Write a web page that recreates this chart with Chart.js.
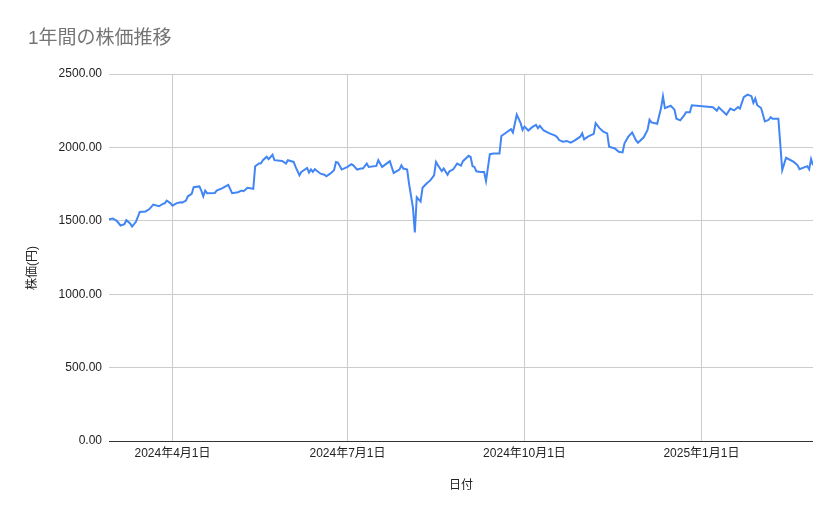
<!DOCTYPE html>
<html lang="ja">
<head>
<meta charset="UTF-8">
<title>1年間の株価推移</title>
<script src="https://cdn.jsdelivr.net/npm/chart.js@4.4.1/dist/chart.umd.min.js"></script>
<style>
    html, body { margin: 0; padding: 0; background: #fff; }
    canvas { display: block; }
</style>
</head>
<body>
<canvas id="stockChart" width="839" height="519"></canvas>
<script>
/**
 * 1年間の株価推移 - データ
 */
const chartTitle = '1年間の株価推移';
const xTitle = '日付';
const yTitle = '株価(円)';

const dates = [
    '2024-02-28', '2024-03-01', '2024-03-03', '2024-03-05', '2024-03-07', '2024-03-08', '2024-03-10', '2024-03-11',
    '2024-03-13', '2024-03-15', '2024-03-18', '2024-03-20', '2024-03-22', '2024-03-25', '2024-03-27', '2024-03-28',
    '2024-03-29', '2024-03-31', '2024-04-01', '2024-04-03', '2024-04-05', '2024-04-06', '2024-04-08', '2024-04-09',
    '2024-04-11', '2024-04-12', '2024-04-15', '2024-04-16', '2024-04-17', '2024-04-18', '2024-04-19', '2024-04-23',
    '2024-04-24', '2024-04-27', '2024-04-30', '2024-05-02', '2024-05-05', '2024-05-07', '2024-05-08', '2024-05-10',
    '2024-05-13', '2024-05-14', '2024-05-16', '2024-05-17', '2024-05-18', '2024-05-20', '2024-05-21', '2024-05-23',
    '2024-05-24', '2024-05-28', '2024-05-30', '2024-05-31', '2024-06-03', '2024-06-04', '2024-06-06', '2024-06-07',
    '2024-06-10', '2024-06-11', '2024-06-12', '2024-06-13', '2024-06-14', '2024-06-17', '2024-06-19', '2024-06-20',
    '2024-06-22', '2024-06-24', '2024-06-25', '2024-06-26', '2024-06-28', '2024-07-01', '2024-07-03', '2024-07-04',
    '2024-07-06', '2024-07-08', '2024-07-09', '2024-07-11', '2024-07-12', '2024-07-16', '2024-07-17', '2024-07-19',
    '2024-07-23', '2024-07-25', '2024-07-28', '2024-07-29', '2024-07-30', '2024-08-01', '2024-08-02', '2024-08-04',
    '2024-08-05', '2024-08-06', '2024-08-08', '2024-08-09', '2024-08-11', '2024-08-13', '2024-08-15', '2024-08-16',
    '2024-08-17', '2024-08-19', '2024-08-20', '2024-08-22', '2024-08-23', '2024-08-25', '2024-08-27', '2024-08-29',
    '2024-08-30', '2024-09-02', '2024-09-03', '2024-09-04', '2024-09-05', '2024-09-06', '2024-09-08', '2024-09-10',
    '2024-09-11', '2024-09-13', '2024-09-15', '2024-09-18', '2024-09-19', '2024-09-21', '2024-09-23', '2024-09-24',
    '2024-09-25', '2024-09-27', '2024-09-29', '2024-09-30', '2024-10-01', '2024-10-03', '2024-10-05', '2024-10-07',
    '2024-10-08', '2024-10-09', '2024-10-11', '2024-10-14', '2024-10-17', '2024-10-18', '2024-10-19', '2024-10-21',
    '2024-10-23', '2024-10-25', '2024-10-27', '2024-10-30', '2024-10-31', '2024-11-01', '2024-11-03', '2024-11-06',
    '2024-11-07', '2024-11-09', '2024-11-11', '2024-11-13', '2024-11-14', '2024-11-17', '2024-11-19', '2024-11-21',
    '2024-11-22', '2024-11-24', '2024-11-26', '2024-11-28', '2024-11-29', '2024-12-02', '2024-12-04', '2024-12-05',
    '2024-12-06', '2024-12-09', '2024-12-11', '2024-12-12', '2024-12-13', '2024-12-16', '2024-12-18', '2024-12-19',
    '2024-12-21', '2024-12-23', '2024-12-24', '2024-12-26', '2024-12-27', '2025-01-07', '2025-01-09', '2025-01-10',
    '2025-01-14', '2025-01-16', '2025-01-18', '2025-01-20', '2025-01-21', '2025-01-23', '2025-01-25', '2025-01-27',
    '2025-01-28', '2025-01-29', '2025-01-30', '2025-02-01', '2025-02-03', '2025-02-05', '2025-02-06', '2025-02-07',
    '2025-02-10', '2025-02-12', '2025-02-14', '2025-02-18', '2025-02-20', '2025-02-21', '2025-02-25', '2025-02-26',
    '2025-02-27', '2025-02-28'
];

const prices = [
    1511, 1516, 1500, 1468, 1477, 1504, 1482, 1461,
    1493, 1560, 1564, 1580, 1610, 1599, 1615, 1619,
    1638, 1619, 1603, 1619, 1626, 1624, 1638, 1667,
    1683, 1729, 1734, 1706, 1667, 1706, 1688, 1690,
    1706, 1722, 1745, 1688, 1695, 1706, 1702, 1725,
    1718, 1872, 1890, 1892, 1913, 1936, 1920, 1950,
    1913, 1908, 1890, 1913, 1901, 1867, 1810, 1833,
    1860, 1828, 1849, 1833, 1851, 1821, 1814, 1803,
    1821, 1844, 1901, 1897, 1849, 1867, 1885, 1878,
    1849, 1856, 1856, 1890, 1867, 1874, 1913, 1867,
    1906, 1826, 1849, 1878, 1856, 1849, 1752, 1592,
    1420, 1660, 1631, 1725, 1752, 1775, 1810, 1901,
    1878, 1839, 1856, 1814, 1837, 1851, 1890, 1876,
    1906, 1943, 1936, 1872, 1867, 1837, 1833, 1833,
    1771, 1954, 1959, 1959, 2078, 2096, 2115, 2124,
    2101, 2223, 2165, 2119, 2142, 2115, 2138, 2154,
    2131, 2147, 2115, 2096, 2080, 2069, 2050, 2039,
    2044, 2032, 2046, 2073, 2096, 2055, 2073, 2092,
    2165, 2131, 2108, 2096, 2005, 1993, 1970, 1966,
    2028, 2073, 2101, 2048, 2032, 2069, 2119, 2188,
    2170, 2161, 2268, 2349, 2268, 2284, 2257, 2195,
    2184, 2218, 2239, 2239, 2287, 2273, 2250, 2273,
    2223, 2264, 2252, 2275, 2264, 2342, 2360, 2349,
    2303, 2333, 2287, 2268, 2177, 2188, 2206, 2195,
    2195, 1845, 1929, 1901, 1878, 1851, 1872, 1851,
    1920, 1878
];

const rangeStart = '2024-02-28';
const rangeEnd = '2025-02-28';
const tickDates = ['2024-04-01', '2024-07-01', '2024-10-01', '2025-01-01'];
const tickLabels = ['2024年4月1日', '2024年7月1日', '2024年10月1日', '2025年1月1日'];
const yTicks = [0, 500, 1000, 1500, 2000, 2500];

const FONT = "'Liberation Sans', 'Noto Sans CJK JP', sans-serif";

/**
 * 'YYYY-MM-DD' を通算日数に変換
 */
function dayNum(s) {
    return Date.UTC(+s.slice(0, 4), +s.slice(5, 7) - 1, +s.slice(8, 10)) / 86400000;
}

/**
 * タイトルと縦軸タイトルを描画
 */
const sheetTexts = {
    id: 'sheetTexts',
    afterDraw(chart) {
        const ctx = chart.ctx;
        ctx.save();
        ctx.textBaseline = 'middle';
        ctx.fillStyle = '#757575';
        ctx.font = '19px ' + FONT;
        ctx.textAlign = 'left';
        ctx.fillText(chartTitle, 28, 39);

        ctx.fillStyle = '#222';
        ctx.font = '12px ' + FONT;
        ctx.translate(33, 268);
        ctx.rotate(-Math.PI / 2);
        ctx.textAlign = 'center';
        ctx.fillText(yTitle, 0, 0);
        ctx.restore();
    }
};

Chart.defaults.font.family = FONT;
Chart.defaults.font.size = 12;
Chart.defaults.color = '#222';

new Chart(document.getElementById('stockChart'), {
    type: 'line',
    data: {
        datasets: [{
            data: dates.map((d, i) => ({ x: dayNum(d), y: prices[i] })),
            borderColor: '#4285F4',
            borderWidth: 2,
            pointRadius: 0,
            pointHoverRadius: 3,
            tension: 0,
            fill: false,
        }]
    },
    options: {
        responsive: false,
        animation: false,
        layout: { padding: { top: 74, right: 26, left: 0, bottom: 0 } },
        scales: {
            x: {
                type: 'linear',
                min: dayNum(rangeStart),
                max: dayNum(rangeEnd),
                afterBuildTicks: scale => {
                    scale.ticks = tickDates.map(d => ({ value: dayNum(d) }));
                },
                afterFit: scale => { scale.height = 78; },
                ticks: {
                    autoSkip: false,
                    maxRotation: 0,
                    padding: 5,
                    callback: (value, index) => tickLabels[index],
                },
                grid: { color: '#cccccc', drawTicks: false },
                border: { display: false },
                title: {
                    display: true,
                    text: xTitle,
                    padding: { top: 0, bottom: 26 },
                },
            },
            y: {
                min: 0,
                max: 2500,
                afterBuildTicks: scale => {
                    scale.ticks = yTicks.map(v => ({ value: v }));
                },
                afterFit: scale => { scale.width = 109; },
                ticks: {
                    padding: 7,
                    callback: value => value.toFixed(2),
                },
                grid: {
                    drawTicks: false,
                    color: ctx => (ctx.tick && ctx.tick.value === 0) ? '#333333' : '#cccccc',
                },
                border: { display: false },
            }
        },
        plugins: {
            legend: { display: false },
        }
    },
    plugins: [sheetTexts]
});
</script>
</body>
</html>
